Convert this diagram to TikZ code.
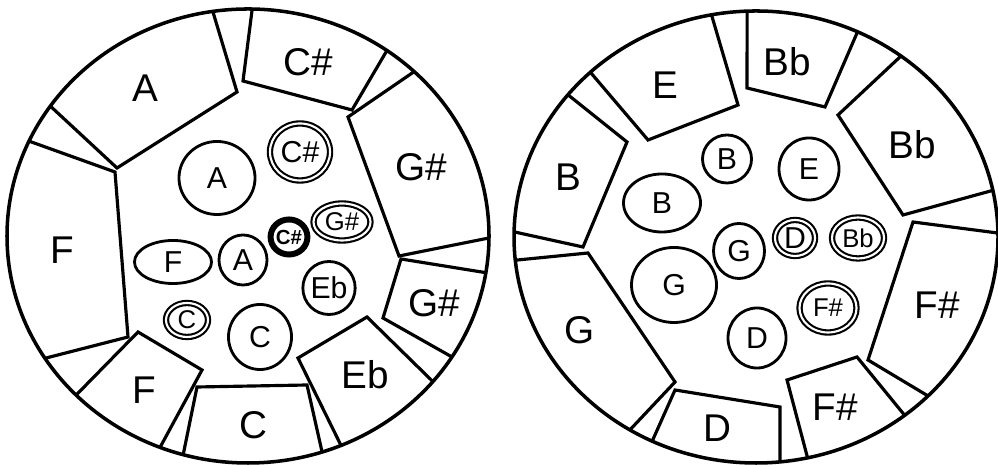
\documentclass[tikz,border=0pt]{standalone}
\usepackage{fontspec}
\setmainfont{Liberation Sans}
\usetikzlibrary{shapes.geometric,calc}
\tikzset{
  rim/.style={draw=black,line width=1pt},
  part line/.style={draw=black,line width=.9pt},
  region label/.style={font=\fontsize{11}{11}\selectfont,inner sep=0pt},
  key ring/.style 2 args={draw=black,ellipse,line width=.8pt,minimum width=#1mm,
    minimum height=#2mm,inner sep=0pt,font=\fontsize{8.6}{8.6}\selectfont},
  double ring/.style={double,double distance=.6pt,line width=.6pt},
  small key/.style={font=\fontsize{7.3}{7.3}\selectfont}
}

\begin{document}
\begin{tikzpicture}[x=0.01cm,y=-0.01cm]
  \useasboundingbox (0,0) rectangle (998,465);
  \coordinate (cL) at (248,236);
  \coordinate (cR) at (756,237);
  \draw[rim] (cL) ellipse [x radius=241,y radius=227];
  \draw[rim] (cR) ellipse [x radius=242,y radius=226];

  % rim points
  \foreach \n/\a in {A1/214.9,A2/261.6,Cs1/271,Cs2/305.2,Gu1/313.6,Gu2/0.5,
      Gl1/9.3,Gl2/32.2,Eb1/39.9,Eb2/67.3,C1/72.1,C2/105.6,
      Fs1/111.4,Fs2/135.5,Fb1/147.4,Fb2/204.7}
    \coordinate (L\n) at ($(cL)+(\a:241 and 227)$);
  \foreach \n/\a in {B1/181.3,B2/219,E1/226.8,E2/259.4,Bt1/267.9,Bt2/294.8,
      Br1/306.8,Br2/348.1,Fr1/359,Fr2/44.7,Fb1/52.1,Fb2/77.7,
      D1/84.3,D2/115.4,G1/121.4,G2/174.1}
    \coordinate (R\n) at ($(cR)+(\a:242 and 226)$);

  % left wheel
  \draw[part line] (LA1) -- (117,168) -- (237,92) -- (LA2);
  \draw[part line] (LCs1) -- (243,81) -- (352,110) -- (LCs2);
  \draw[part line] (LGu1) -- (348,117) -- (399,256) -- (LGu2);
  \draw[part line] (LGl1) -- (401,259) -- (383,318) -- (LGl2);
  \draw[part line] (LEb1) -- (367,317) -- (298,358) -- (LEb2);
  \draw[part line] (LC1) -- (307,385) -- (197,387) -- (LC2);
  \draw[part line] (LFs1) -- (202,370) -- (138,332) -- (LFs2);
  \draw[part line] (LFb1) -- (128,337) -- (115,172) -- (LFb2);

  \node[region label] (lA) at (145,88) {A};
  \node[region label] (lCs) at (308,62) {C\#};
  \node[region label] (lGu) at (421,167) {G\#};
  \node[region label] (lGl) at (434,303) {G\#};
  \node[region label] (lEb) at (365,375) {Eb};
  \node[region label] (lC) at (253,425) {C};
  \node[region label] (lFs) at (144,390) {F};
  \node[region label] (lFb) at (62,250) {F};

  \node[key ring={7.6}{7.3}] (kA) at (217,178) {A};
  \node[key ring={6.0}{5.7},double ring] (kCs) at (300,152) {C\#};
  \node[key ring={5.7}{3.7},double ring,small key] (kGs) at (342,222) {G\#};
  \node[key ring={3.6}{3.5},line width=1.7pt,
    font=\fontsize{5.8}{5.8}\selectfont\bfseries] (kCsb) at (289,237) {C\#};
  \node[key ring={7.7}{4.3}] (kF) at (173,262) {F};
  \node[key ring={4.8}{5.0}] (kAs) at (243,260) {A};
  \node[key ring={5.2}{5.3}] (kEb) at (329,288) {Eb};
  \node[key ring={4.2}{3.4},double ring,small key] (kCs) at (187,320) {C};
  \node[key ring={6.3}{6.5}] (kC) at (260,337) {C};

  % right wheel
  \draw[part line] (RB1) -- (583,247) -- (627,142) -- (RB2);
  \draw[part line] (RE1) -- (648,140) -- (738,105) -- (RE2);
  \draw[part line] (RBt1) -- (747,88) -- (825,107) -- (RBt2);
  \draw[part line] (RBr1) -- (838,115) -- (903,215) -- (RBr2);
  \draw[part line] (RFr1) -- (913,222) -- (868,360) -- (RFr2);
  \draw[part line] (RFb1) -- (857,357) -- (787,380) -- (RFb2);
  \draw[part line] (RD1) -- (780,407) -- (675,390) -- (RD2);
  \draw[part line] (RG1) -- (675,382) -- (588,253) -- (RG2);

  \node[region label] (rE) at (665,85) {E};
  \node[region label] (rB) at (568,177) {B};
  \node[region label] (rBt) at (787,62) {Bb};
  \node[region label] (rBr) at (912,145) {Bb};
  \node[region label] (rFr) at (937,305) {F\#};
  \node[region label] (rFb) at (835,407) {F\#};
  \node[region label] (rD) at (717,428) {D};
  \node[region label] (rG) at (580,330) {G};

  \node[key ring={4.9}{4.8}] (kB) at (727,159) {B};
  \node[key ring={6.0}{6.2}] (kE) at (809,169) {E};
  \node[key ring={7.7}{5.8}] (kBb) at (662,203) {B};
  \node[key ring={5.1}{5.5}] (kGs) at (739,251) {G};
  \node[key ring={4.0}{3.6},double ring] (kDs) at (795,238) {D};
  \node[key ring={5.2}{4.1},double ring,small key] (kBf) at (858,238) {Bb};
  \node[key ring={8.5}{7.5}] (kG) at (674,285) {G};
  \node[key ring={5.7}{4.9},double ring,small key] (kFs) at (828,308) {F\#};
  \node[key ring={5.8}{6.0}] (kD) at (757,338) {D};
\end{tikzpicture}
\end{document}
